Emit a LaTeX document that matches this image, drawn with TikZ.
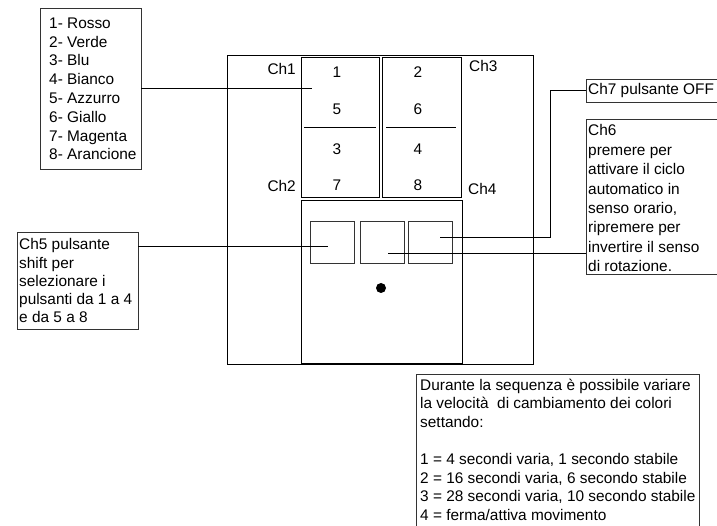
\documentclass[tikz,border=0pt]{standalone}
\usepackage{fontspec}
\setmainfont{Liberation Sans}
\begin{document}
\begin{tikzpicture}[x=1pt,y=-1pt,
  box/.style={draw=black!80, line width=0.8pt, inner sep=0pt, outer sep=0pt, anchor=north west},
  txt/.style={font=\fontsize{15.4}{18}\selectfont, inner sep=0pt, anchor=base west},
  num/.style={font=\fontsize{15.4}{18}\selectfont, inner sep=0pt, anchor=base},
  conn/.style={draw=black, line width=0.8pt}]
\useasboundingbox (0,0) rectangle (717,526);
\clip (0,0) rectangle (717,526);
\fill[white] (0,0) rectangle (717,526);

% device
\node[box, line width=1pt, draw=black, minimum width=306pt, minimum height=308pt] (frame) at (227,56) {};
\node[box, line width=1pt, draw=black, minimum width=78pt, minimum height=140pt] (pl) at (301,58) {};
\node[box, line width=1pt, draw=black, minimum width=79pt, minimum height=140pt] (pr) at (382,58) {};
\draw[black, line width=0.8pt] (304,127) -- (376,127);
\draw[black, line width=0.8pt] (386,127) -- (456,127);
\node[box, line width=1pt, draw=black, minimum width=161pt, minimum height=162pt] (lower) at (301,201) {};
\node[box, minimum width=44pt, minimum height=42pt] (b1) at (310,221) {};
\node[box, minimum width=44pt, minimum height=42pt] (b2) at (360,221) {};
\node[box, minimum width=44pt, minimum height=42pt] (b3) at (408,221) {};
\fill[black] (381,288) circle (5pt);

% numbers
\node[num] (n1) at (337,78) {1};
\node[num] (n5) at (337,115) {5};
\node[num] (n3) at (337,155) {3};
\node[num] (n7) at (337,191) {7};
\node[num] (n2) at (418,78) {2};
\node[num] (n6) at (418,115) {6};
\node[num] (n4) at (418,155) {4};
\node[num] (n8) at (418,191) {8};

% channel labels
\node[txt, anchor=base east] (ch1) at (296,75) {Ch1};
\node[txt, anchor=base east] (ch2) at (296,192) {Ch2};
\node[txt] (ch3) at (469,72) {Ch3};
\node[txt] (ch4) at (468,195) {Ch4};

% colour list
\node[box, minimum width=101pt, minimum height=161pt] (colors) at (40,8) {};
\foreach \t [count=\i from 0] in {1- Rosso, 2- Verde, 3- Blu, 4- Bianco, 5- Azzurro, 6- Giallo, 7- Magenta, 8- Arancione}
  \node[txt] (col\i) at (49,28.3+18.8*\i) {\t};

% Ch5 box
\node[box, minimum width=121pt, minimum height=97pt] (ch5) at (17,232) {};
\foreach \t [count=\i from 0] in {Ch5 pulsante, shift per, selezionare i, pulsanti da 1 a 4, e da 5 a 8}
  \node[txt] (c5l\i) at (19,250+18.25*\i) {\t};

% Ch7 box
\node[box, minimum width=140pt, minimum height=23pt] (ch7) at (586,79) {};
\node[txt] (c7l) at (588,95) {Ch7 pulsante OFF};

% Ch6 box
\node[box, minimum width=140pt, minimum height=155pt] (ch6) at (586,119) {};
\foreach \t [count=\i from 0] in {Ch6, premere per, attivare il ciclo, automatico in, {senso orario,}, ripremere per, invertire il senso, di rotazione.}
  \node[txt] (c6l\i) at (588,136+19.4*\i) {\t};

% speed box
\node[box, minimum width=283pt, minimum height=200pt] (speed) at (416,374) {};
\node[txt] (s0) at (420,390) {Durante la sequenza è possibile variare};
\node[txt] (s1) at (420,408.6) {la velocità\ \ di cambiamento dei colori};
\node[txt] (s2) at (420,427.2) {settando:};
\node[txt] (s4) at (420,464.4) {1 = 4 secondi varia, 1 secondo stabile};
\node[txt] (s5) at (420,483) {2 = 16 secondi varia, 6 secondo stabile};
\node[txt] (s6) at (420,501.6) {3 = 28 secondi varia, 10 secondo stabile};
\node[txt] (s7) at (420,520.2) {4 = ferma/attiva movimento};

% connectors
\coordinate (p1) at (312,88);
\draw[conn] (colors.east |- p1) -- (p1);
\coordinate (p5) at (328,246);
\draw[conn] (ch5.east |- p5) -- (p5);
\coordinate (p7) at (440,237);
\coordinate (k7) at (550,237);
\draw[conn] (p7) -- (k7) |- (ch7.west);
\coordinate (p6) at (388,253);
\draw[conn] (p6) -- (ch6.west |- p6);
\end{tikzpicture}
\end{document}
